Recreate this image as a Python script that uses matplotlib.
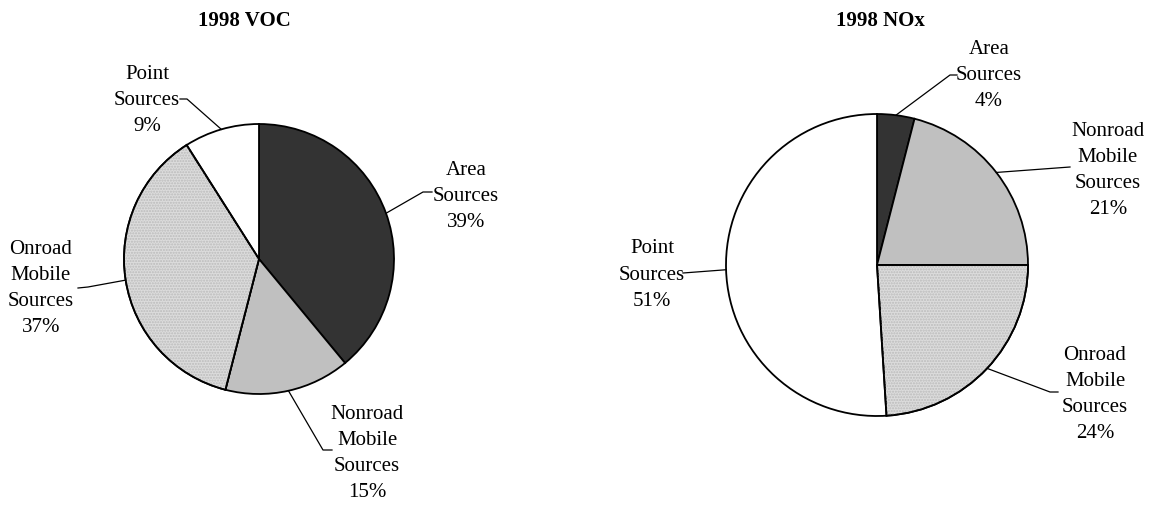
import numpy as np
import matplotlib
matplotlib.use("Agg")
import matplotlib.pyplot as plt
from matplotlib.patches import Wedge

plt.rcParams['font.family'] = ['Liberation Serif', 'DejaVu Serif']

# ---- data ----
categories = ["Area Sources", "Nonroad Mobile Sources", "Onroad Mobile Sources", "Point Sources"]
voc_values = [39, 15, 37, 9]
nox_values = [4, 21, 24, 51]
voc_labels = ["Area\nSources\n39%", "Nonroad\nMobile\nSources\n15%", "Onroad\nMobile\nSources\n37%", "Point\nSources\n9%"]
nox_labels = ["Area\nSources\n4%", "Nonroad\nMobile\nSources\n21%", "Onroad\nMobile\nSources\n24%", "Point\nSources\n51%"]
titles = ["1998 VOC", "1998 NOx"]

colors = ["#333333", "#c0c0c0", "#dcdcdc", "#ffffff"]

W, H = 1151, 506
fig = plt.figure(figsize=(W / 100, H / 100), dpi=100)

FS = 15

# layout in pixels: pie centre, radius
layouts = [
    dict(cx=259, cy=260, r=135, title=(244, 21),
         text=[(466, 197), (367, 454), (41, 289), (147, 100)],
         elbow=[(423, 193), (323, 451), (88, 288), (187, 100)],
         end=[(432, 193), (332, 451), (78, 289), (180, 100)]),
    dict(cx=877, cy=266, r=151, title=(880, 21),
         text=[(989, 75), (1108, 171), (1095, 395), (652, 275)],
         elbow=[(950, 76), (1070, 168), (1050, 393), (683, 274)],
         end=[(957, 76), (1070, 168), (1058, 393), (683, 274)]),
]

for values, labels, lay, title in zip([voc_values, nox_values], [voc_labels, nox_labels], layouts, titles):
    cx, cy, r = lay['cx'], lay['cy'], lay['r']
    ax = fig.add_axes([(cx - r) / W, (H - cy - r) / H, 2 * r / W, 2 * r / H])

    def p2d(px, py):
        return (px - cx) / r, (cy - py) / r

    wedges, _ = ax.pie(values, colors=colors, startangle=90, counterclock=False, radius=1.0,
                       wedgeprops=dict(edgecolor='black', linewidth=1.3), normalize=True)
    ax.set_xlim(-1, 1)
    ax.set_ylim(-1, 1)
    ax.set_aspect('equal')
    ax.axis('off')
    # dotted texture on the onroad wedge
    w = wedges[2]
    tex = Wedge(w.center, w.r, w.theta1, w.theta2, facecolor='none', edgecolor='#bbbbbb',
                hatch='......', linewidth=0, zorder=w.get_zorder() + 0.1)
    ax.add_patch(tex)
    outline = Wedge(w.center, w.r, w.theta1, w.theta2, facecolor='none', edgecolor='black',
                    linewidth=1.3, zorder=w.get_zorder() + 0.2)
    ax.add_patch(outline)
    for wd in wedges:
        wd.set_clip_on(False)
    tex.set_clip_on(False)
    outline.set_clip_on(False)

    for i, wd in enumerate(wedges):
        mid = np.deg2rad((wd.theta1 + wd.theta2) / 2)
        ex, ey = np.cos(mid), np.sin(mid)
        bx, by = p2d(*lay['elbow'][i])
        tx, ty = p2d(*lay['end'][i])
        ax.plot([ex, bx, tx], [ey, by, ty], color='black', lw=0.9, clip_on=False, zorder=5)
        lx, ly = p2d(*lay['text'][i])
        ax.text(lx, ly, labels[i], ha='center', va='center', fontsize=FS, linespacing=1.5,
                clip_on=False)

    fig.text(lay['title'][0] / W, 1 - lay['title'][1] / H, title, ha='center', va='center',
             fontsize=FS, fontweight='bold')

fig.savefig("out.png", dpi=100)
